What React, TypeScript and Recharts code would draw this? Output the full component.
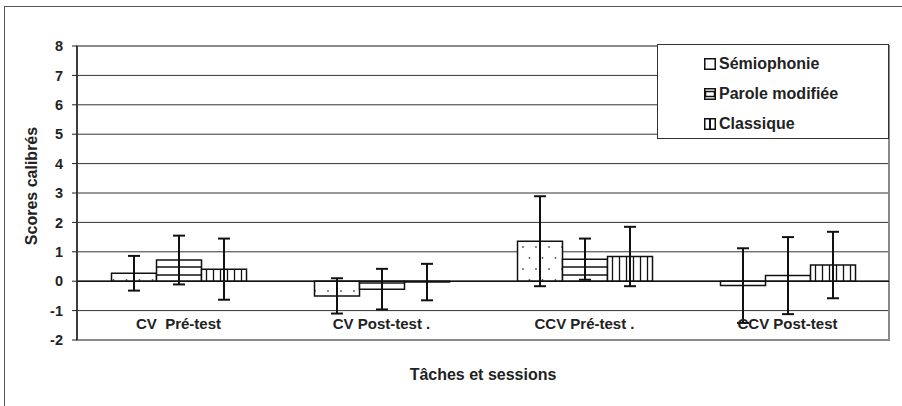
import { BarChart, Bar, XAxis, YAxis, CartesianGrid, ErrorBar, Legend, ReferenceLine, ReferenceArea } from "recharts";

const categories = ["CV  Pré-test", "CV Post-test .", "CCV Pré-test .", "CCV Post-test"];
const semiophonie = [0.27, -0.5, 1.36, -0.15];
const semiophonieErr = [0.59, 0.6, 1.53, 1.27];
const paroleModifiee = [0.72, -0.27, 0.75, 0.19];
const paroleErr = [0.83, 0.69, 0.7, 1.31];
const classique = [0.41, -0.03, 0.84, 0.55];
const classiqueErr = [1.04, 0.62, 1.01, 1.13];
const yTicks = [-2, -1, 0, 1, 2, 3, 4, 5, 6, 7, 8];
const seriesNames = ["Sémiophonie", "Parole modifiée", "Classique"];

const data = categories.map((name, i) => ({
    name,
    semio: semiophonie[i],
    semioErr: semiophonieErr[i],
    parole: paroleModifiee[i],
    paroleErr: paroleErr[i],
    classique: classique[i],
    classiqueErr: classiqueErr[i],
}));

const font = "'Liberation Sans', Arial, sans-serif";

const LegendIcon = ({ kind }: { kind: number }) => (
    <svg width={12} height={12} style={{ marginRight: 3, flex: "none" }}>
        <rect x={0.75} y={0.75} width={10.5} height={10.5} fill="#fff" stroke="#111" strokeWidth={1.5} />
        {kind === 1 && <rect x={1.5} y={3.5} width={9} height={5} fill="#fff" stroke="#111" strokeWidth={1.5} />}
        {kind === 2 && <line x1={6} y1={1} x2={6} y2={11} stroke="#111" strokeWidth={2} />}
    </svg>
);

const renderLegend = () => (
    <div style={{ width: "100%", height: "100%", boxSizing: "border-box", border: "1px solid #333", background: "#fff", paddingLeft: 46, paddingTop: 4 }}>
        {seriesNames.map((n, i) => (
            <div key={n} style={{ display: "flex", alignItems: "center", height: 30, fontFamily: font, fontWeight: 700, fontSize: 16, color: "#222" }}>
                <LegendIcon kind={i} />
                {n}
            </div>
        ))}
    </div>
);

const CategoryTick = (props: any) => {
    const { x, y, payload } = props;
    return (
        <text x={x} y={y} dy={-19} textAnchor="middle" fontFamily={font} fontWeight={700} fontSize={15} fill="#222" style={{ whiteSpace: "pre" }}>
            {payload.value}
        </text>
    );
};

export default function App() {
    return (
        <div style={{ position: "absolute", left: 0, top: 0, width: 902, height: 406, background: "#fff", overflow: "hidden" }}>
            <div style={{ position: "absolute", left: 4, top: 6, width: 910, height: 420, borderTop: "1px solid #555", borderLeft: "1px solid #555" }} />
            <BarChart
                width={902}
                height={406}
                data={data}
                margin={{ top: 46, right: 13, left: 17, bottom: 26 }}
                barCategoryGap="17%"
                barGap={0}
                style={{ position: "absolute", left: 0, top: 0 }}
            >
                <defs>
                    <pattern id="dotsPat" width="13" height="22" patternUnits="userSpaceOnUse">
                        <rect width="13" height="22" fill="#fff" />
                        <circle cx="3" cy="5" r="0.9" fill="#555" />
                        <circle cx="9.5" cy="16" r="0.9" fill="#555" />
                    </pattern>
                    <pattern id="hlinesPat" width="8" height="8" patternUnits="userSpaceOnUse">
                        <rect width="8" height="8" fill="#fff" />
                        <line x1="0" y1="3" x2="8" y2="3" stroke="#111" strokeWidth="1.5" />
                    </pattern>
                    <pattern id="vlinesPat" width="7" height="7" patternUnits="userSpaceOnUse">
                        <rect width="7" height="7" fill="#fff" />
                        <line x1="3.5" y1="0" x2="3.5" y2="7" stroke="#111" strokeWidth="1.3" />
                    </pattern>
                </defs>
                <CartesianGrid vertical={false} stroke="#333" strokeWidth={1} />
                <ReferenceArea y1={-2} y2={8} fill="none" stroke="#8a8a8a" strokeWidth={2} ifOverflow="visible" />
                <XAxis
                    dataKey="name"
                    height={40}
                    axisLine={false}
                    tickLine={false}
                    interval={0}
                    tick={<CategoryTick />}
                    label={{ value: "Tâches et sessions", position: "center", dx: 0, dy: 14, fontFamily: font, fontWeight: 700, fontSize: 16, fill: "#222" }}
                />
                <YAxis
                    width={60}
                    domain={[-2, 8]}
                    ticks={yTicks}
                    interval={0}
                    allowDataOverflow
                    axisLine={{ stroke: "#222", strokeWidth: 1.5 }}
                    tickLine={{ stroke: "#222" }}
                    tickSize={5}
                    tickMargin={9}
                    tick={{ fontFamily: font, fontWeight: 700, fontSize: 14.5, fill: "#222" }}
                    label={{ value: "Scores calibrés", angle: -90, position: "center", dx: -16, dy: -7, fontFamily: font, fontWeight: 700, fontSize: 16, fill: "#222" }}
                />
                <ReferenceLine y={0} stroke="#111" strokeWidth={1.5} />
                <Legend
                    layout="horizontal"
                    align="center"
                    verticalAlign="middle"
                    content={renderLegend}
                    wrapperStyle={{ position: "absolute", left: 657, top: 44, width: 232, height: 95 }}
                />
                <Bar dataKey="semio" name={seriesNames[0]} fill="url(#dotsPat)" stroke="#111" strokeWidth={1.5} isAnimationActive={false}>
                    <ErrorBar dataKey="semioErr" width={6} stroke="#111" strokeWidth={2} />
                </Bar>
                <Bar dataKey="parole" name={seriesNames[1]} fill="url(#hlinesPat)" stroke="#111" strokeWidth={1.5} isAnimationActive={false}>
                    <ErrorBar dataKey="paroleErr" width={6} stroke="#111" strokeWidth={2} />
                </Bar>
                <Bar dataKey="classique" name={seriesNames[2]} fill="url(#vlinesPat)" stroke="#111" strokeWidth={1.5} isAnimationActive={false}>
                    <ErrorBar dataKey="classiqueErr" width={6} stroke="#111" strokeWidth={2} />
                </Bar>
            </BarChart>
        </div>
    );
}
